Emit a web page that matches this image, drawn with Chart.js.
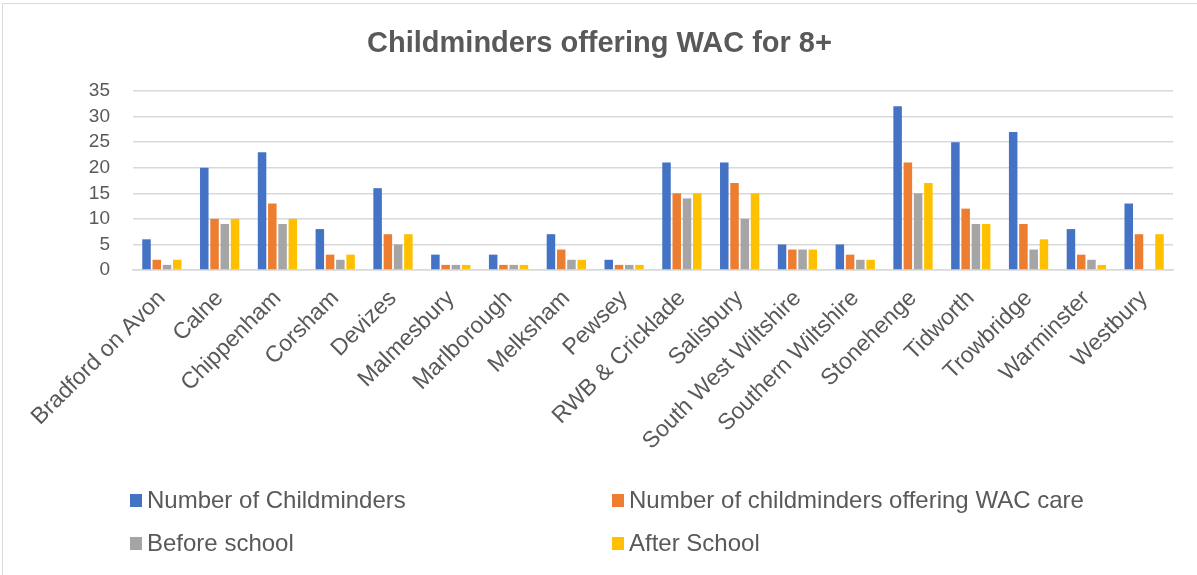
<!DOCTYPE html>
<html>
<head>
<meta charset="utf-8">
<script src="https://cdn.jsdelivr.net/npm/chart.js@4"></script>
<style>
  html, body { margin: 0; padding: 0; background: #fff; }
  #wrap { position: relative; width: 1197px; height: 575px; overflow: hidden; font-family: "Liberation Sans", Arial, sans-serif; }
  #frame { position: absolute; left: 2px; top: 3px; width: 1200px; height: 580px; border: 1px solid #d9d9d9; box-sizing: border-box; pointer-events: none; }
  canvas { position: absolute; left: 0; top: 0; }
  #title { position: absolute; left: 0; width: 1197px; top: 25px; height: 34px; line-height: 34px; text-align: center; color: #595959; font-size: 29px; font-weight: bold; padding-left: 2px; box-sizing: border-box; }
  #legend { position: absolute; left: 0; top: 0; width: 1197px; height: 575px; pointer-events: none; }
  .item { position: absolute; display: flex; align-items: center; color: #595959; font-size: 24px; white-space: nowrap; }
  .box { width: 12px; height: 13px; margin-right: 5px; }
</style>
</head>
<body>
<div id="wrap">
  <canvas id="c" width="1197" height="575"></canvas>
  <div id="title"></div>
  <div id="legend"></div>
  <div id="frame"></div>
</div>
<script>
const categories = ["Bradford on Avon","Calne","Chippenham","Corsham","Devizes","Malmesbury","Marlborough","Melksham","Pewsey","RWB & Cricklade","Salisbury","South West Wiltshire","Southern Wiltshire","Stonehenge","Tidworth","Trowbridge","Warminster","Westbury"];
const seriesNames = ["Number of Childminders","Number of childminders offering WAC care","Before school","After School"];
const numberOfChildminders = [6,20,23,8,16,3,3,7,2,21,21,5,5,32,25,27,8,13];
const offeringWAC = [2,10,13,3,7,1,1,4,1,15,17,4,3,21,12,9,3,7];
const beforeSchool = [1,9,9,2,5,1,1,2,1,14,10,4,2,15,9,4,2,0];
const afterSchool = [2,10,10,3,7,1,1,2,1,15,15,4,2,17,9,6,1,7];
const yTickLabels = ["0","5","10","15","20","25","30","35"];
const titleText = "Childminders offering WAC for 8+";

const colors = ["#4472C4","#ED7D31","#A5A5A5","#FFC000"];
const seriesValues = [numberOfChildminders, offeringWAC, beforeSchool, afterSchool];

document.getElementById("title").textContent = titleText;

const datasets = seriesNames.map((name, i) => ({
  label: name,
  data: seriesValues[i],
  backgroundColor: colors[i],
  borderWidth: 0,
  categoryPercentage: 0.71,
  barPercentage: 0.83
}));

const textColor = "#595959";
const fam = '"Liberation Sans", Arial, sans-serif';

new Chart(document.getElementById("c"), {
  type: "bar",
  data: { labels: categories, datasets },
  options: {
    responsive: false,
    animation: false,
    layout: { padding: { left: 0, right: 24, top: 91, bottom: 0 } },
    plugins: {
      legend: { display: false },
      tooltip: { enabled: false },
      title: { display: false }
    },
    scales: {
      x: {
        grid: { display: false, drawTicks: false },
        border: { display: true, color: "#d9d9d9", width: 1.5 },
        ticks: {
          color: textColor,
          font: { family: fam, size: 23 },
          autoSkip: false,
          maxRotation: 45,
          minRotation: 45,
          padding: 15
        },
        afterFit: (s) => { s.height = 305; }
      },
      y: {
        min: 0,
        max: 35,
        grid: { color: "#d9d9d9", lineWidth: 1.5, drawTicks: false },
        border: { display: false },
        ticks: {
          stepSize: 5,
          autoSkip: false,
          color: textColor,
          font: { family: fam, size: 19 },
          padding: 23,
          callback: (v) => yTickLabels[yTickLabels.indexOf(String(v))] ?? String(v)
        },
        afterFit: (s) => { s.width = 133; }
      }
    }
  }
});

// HTML legend built from the series arrays
const legendPos = [
  { left: 130, top: 500 },
  { left: 612, top: 500 },
  { left: 130, top: 543 },
  { left: 612, top: 543 }
];
const legend = document.getElementById("legend");
seriesNames.forEach((name, i) => {
  const el = document.createElement("div");
  el.className = "item";
  el.style.left = legendPos[i].left + "px";
  el.style.top = (legendPos[i].top - 14) + "px";
  el.style.height = "28px";
  const b = document.createElement("span");
  b.className = "box";
  b.style.background = colors[i];
  const t = document.createElement("span");
  t.textContent = name;
  el.appendChild(b);
  el.appendChild(t);
  legend.appendChild(el);
});
</script>
</body>
</html>
